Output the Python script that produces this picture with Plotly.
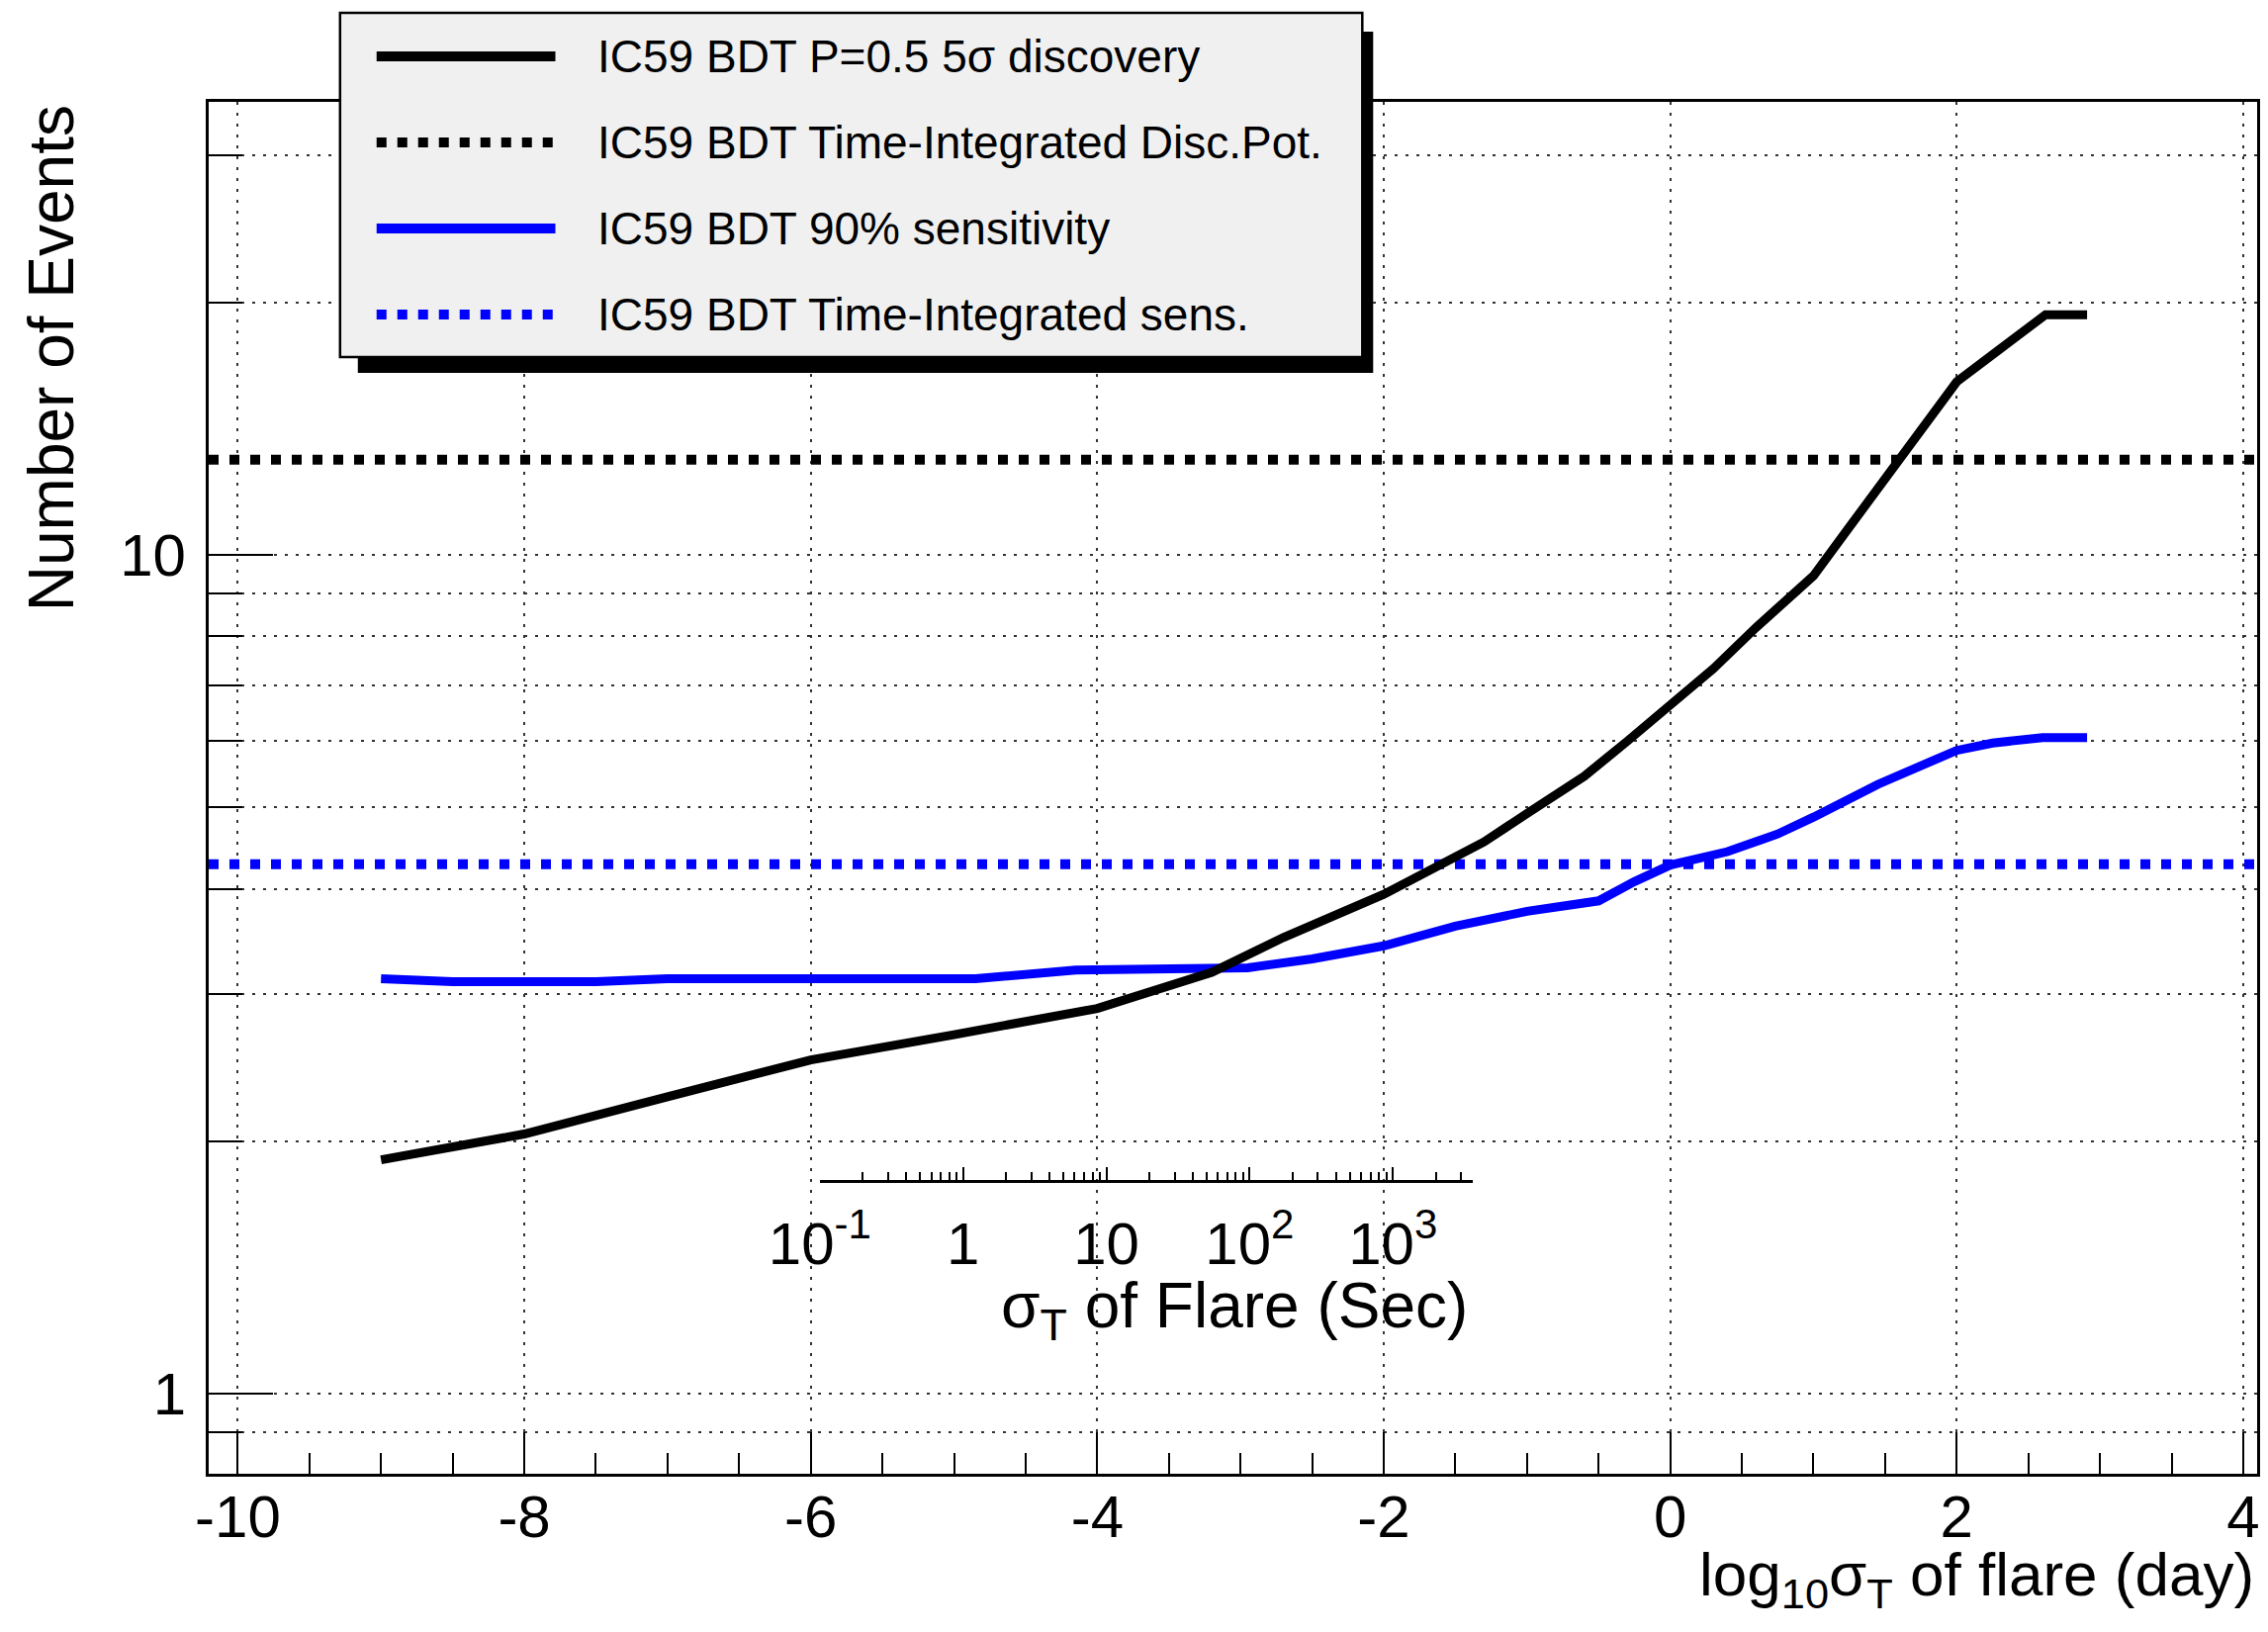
import math
import plotly.graph_objects as go

# ---------------- data ----------------
# IC59 BDT P=0.5 5 sigma discovery  (x = log10 sigma_T [day], y = number of events)
disc_log_sigma_day = [-9.0, -8.0, -7.0, -6.0, -5.0, -4.0, -3.2, -2.7, -2.0, -1.6, -1.3, -1.0,
                      -0.6, -0.3, 0.0, 0.3, 0.6, 0.8, 1.0, 1.25, 1.5, 1.75, 2.0, 2.3, 2.62, 2.91]
disc_events = [1.90, 2.04, 2.26, 2.50, 2.68, 2.88, 3.18, 3.50, 3.94, 4.27, 4.55, 4.92,
               5.45, 6.00, 6.63, 7.32, 8.20, 8.80, 9.45, 10.8, 12.35, 14.2, 16.1, 17.6, 19.36, 19.36]

# IC59 BDT 90% sensitivity
sens_log_sigma_day = [-9.0, -8.5, -7.5, -7.0, -4.85, -4.5, -4.15, -2.95, -2.5, -2.0, -1.5, -1.0,
                      -0.5, -0.25, 0.0, 0.4, 0.75, 1.0, 1.45, 2.0, 2.25, 2.6, 2.91]
sens_events = [3.125, 3.10, 3.10, 3.125, 3.125, 3.167, 3.20, 3.22, 3.30, 3.42, 3.61, 3.76,
               3.87, 4.08, 4.27, 4.43, 4.65, 4.87, 5.33, 5.85, 5.97, 6.06, 6.06]

# time-integrated references (constant lines)
ti_disc_pot_events = 13.0
ti_sens_events = 4.28

legend_labels = [
    "IC59 BDT P=0.5 5σ discovery",
    "IC59 BDT Time-Integrated Disc.Pot.",
    "IC59 BDT 90% sensitivity",
    "IC59 BDT Time-Integrated sens.",
]

x_tickvals = [-10, -8, -6, -4, -2, 0, 2, 4]
x_ticktext = ["-10", "-8", "-6", "-4", "-2", "0", "2", "4"]
y_tickvals = [1, 10]
y_ticktext = ["1", "10"]
y_minor_vals = [0.9, 2, 3, 4, 5, 6, 7, 8, 9, 20, 30]
sec_tickvals = [0.1, 1, 10, 100, 1000]
sec_ticktext = ["10<sup>-1</sup>", "1", "10", "10<sup>2</sup>", "10<sup>3</sup>"]
sec_minor_vals = [0.2, 0.3, 0.4, 0.5, 0.6, 0.7, 0.8, 0.9,
                  2, 3, 4, 5, 6, 7, 8, 9,
                  20, 30, 40, 50, 60, 70, 80, 90,
                  200, 300, 400, 500, 600, 700, 800, 900,
                  2000, 3000]

# ---------------- axis setup ----------------
X_RANGE = [-10.203, 4.097]
Y_RANGE_LOG = [-0.0956, 1.5407]
SEC_PER_DAY = 86400.0
SEC_RANGE = [0.1, 3600.0]
SEC_AXIS_AT_EVENTS = 1.8

W, H = 2293, 1650
L, R, T, B = 211, 8, 103, 160
PW, PH = W - L - R, H - T - B

FONT = "Liberation Sans, Arial, Helvetica, sans-serif"
BLUE = "#0000ff"
GRIDCOL = "#333333"
GRID = dict(gridcolor=GRIDCOL, gridwidth=2, griddash="3px,8px")


def px2x(px):
    return (px - L) / PW


def py2y(py):
    return (H - B - py) / PH


fig = go.Figure()

xs_full = [X_RANGE[0], X_RANGE[1]]
fig.add_trace(go.Scatter(x=xs_full, y=[ti_disc_pot_events] * 2, mode="lines",
                         line=dict(color="black", width=10, dash="10px,11px"),
                         showlegend=False, hoverinfo="skip"))
fig.add_trace(go.Scatter(x=xs_full, y=[ti_sens_events] * 2, mode="lines",
                         line=dict(color=BLUE, width=10, dash="10px,11px"),
                         showlegend=False, hoverinfo="skip"))
fig.add_trace(go.Scatter(x=sens_log_sigma_day, y=sens_events, mode="lines",
                         line=dict(color=BLUE, width=9), showlegend=False))
fig.add_trace(go.Scatter(x=disc_log_sigma_day, y=disc_events, mode="lines",
                         line=dict(color="black", width=9), showlegend=False))
# empty trace to create the inner seconds axis subplot
fig.add_trace(go.Scatter(x=[], y=[], xaxis="x2", yaxis="y2", showlegend=False))

# inner seconds axis geometry (aligned with the day axis)
lo_day = math.log10(SEC_RANGE[0] / SEC_PER_DAY)
hi_day = math.log10(SEC_RANGE[1] / SEC_PER_DAY)
d0 = (lo_day - X_RANGE[0]) / (X_RANGE[1] - X_RANGE[0])
d1 = (hi_day - X_RANGE[0]) / (X_RANGE[1] - X_RANGE[0])
pos = (math.log10(SEC_AXIS_AT_EVENTS) - Y_RANGE_LOG[0]) / (Y_RANGE_LOG[1] - Y_RANGE_LOG[0])

tickfont = dict(family=FONT, size=60, color="black")

fig.update_layout(
    width=W, height=H,
    margin=dict(l=L, r=R, t=T, b=B),
    paper_bgcolor="white",
    plot_bgcolor="rgba(0,0,0,0)",
    font=dict(family=FONT, color="black"),
    showlegend=False,
    xaxis=dict(
        range=X_RANGE, tickvals=x_tickvals, ticktext=x_ticktext,
        ticks="inside", ticklen=42, tickwidth=2, tickcolor="black",
        showline=True, linewidth=3, linecolor="black", mirror=True,
        showgrid=True, **GRID, zeroline=False,
        tickfont=tickfont, ticklabelstandoff=-11,
        minor=dict(dtick=0.5, tick0=0, ticks="inside", ticklen=21, tickwidth=2,
                   tickcolor="black", showgrid=False),
    ),
    yaxis=dict(
        type="log", range=Y_RANGE_LOG, tickvals=y_tickvals, ticktext=y_ticktext,
        ticks="inside", ticklen=65, tickwidth=2, tickcolor="black",
        showline=True, linewidth=3, linecolor="black", mirror=True,
        showgrid=True, **GRID, zeroline=False,
        tickfont=tickfont, ticklabelstandoff=8,
        minor=dict(tickvals=y_minor_vals, ticks="inside", ticklen=34, tickwidth=2,
                   tickcolor="black", showgrid=True, gridcolor=GRIDCOL, gridwidth=2,
                   griddash="3px,8px"),
    ),
    xaxis2=dict(
        type="log", range=[math.log10(SEC_RANGE[0]), math.log10(SEC_RANGE[1])],
        domain=[d0, d1], anchor="y2", side="bottom",
        tickvals=sec_tickvals, ticktext=sec_ticktext,
        ticks="inside", ticklen=13, tickwidth=2, tickcolor="black",
        showline=True, linewidth=3, linecolor="black",
        showgrid=False, zeroline=False, tickfont=tickfont, ticklabelstandoff=10,
        minor=dict(tickvals=sec_minor_vals, ticks="inside", ticklen=8, tickwidth=2,
                   tickcolor="black", showgrid=False),
    ),
    yaxis2=dict(domain=[pos, pos + 0.002], anchor="x2", visible=False, range=[0, 1]),
)

annotations = []
shapes = []

# axis titles
annotations.append(dict(xref="paper", yref="paper", x=px2x(52), y=py2y(104),
                        xanchor="center", yanchor="top", textangle=-90, showarrow=False,
                        text="Number of Events", font=dict(family=FONT, size=64, color="black")))
annotations.append(dict(xref="paper", yref="paper", x=px2x(2284), y=py2y(1596),
                        xanchor="right", yanchor="middle", showarrow=False,
                        text="log<sub>10</sub>σ<sub>T</sub> of flare (day)",
                        font=dict(family=FONT, size=62, color="black")))
annotations.append(dict(xref="paper", yref="paper", x=px2x(1488), y=py2y(1324),
                        xanchor="right", yanchor="middle", showarrow=False,
                        text="σ<sub>T</sub> of Flare (Sec)",
                        font=dict(family=FONT, size=64, color="black")))

# legend box with shadow
shapes.append(dict(type="rect", xref="paper", yref="paper", layer="above",
                   x0=px2x(362), x1=px2x(1390), y0=py2y(377), y1=py2y(32),
                   fillcolor="black", line=dict(width=0)))
shapes.append(dict(type="rect", xref="paper", yref="paper", layer="above",
                   x0=px2x(344), x1=px2x(1379), y0=py2y(361), y1=py2y(13),
                   fillcolor="#f0f0f0", line=dict(color="black", width=2.5)))
legend_styles = [("black", "solid"), ("black", "10px,11px"), (BLUE, "solid"), (BLUE, "10px,11px")]
row_y = [57, 144, 231, 318]
for (col, dash), label, ry in zip(legend_styles, legend_labels, row_y):
    shapes.append(dict(type="line", xref="paper", yref="paper", layer="above",
                       x0=px2x(381), x1=px2x(562), y0=py2y(ry), y1=py2y(ry),
                       line=dict(color=col, width=10, dash=dash)))
    annotations.append(dict(xref="paper", yref="paper", x=px2x(603), y=py2y(ry),
                            xanchor="left", yanchor="middle", showarrow=False, text=label,
                            font=dict(family=FONT, size=46, color="black")))

fig.update_layout(annotations=annotations, shapes=shapes)

fig.write_html("out.html", config={"displayModeBar": False},
               post_script="document.body.style.margin='0';")
